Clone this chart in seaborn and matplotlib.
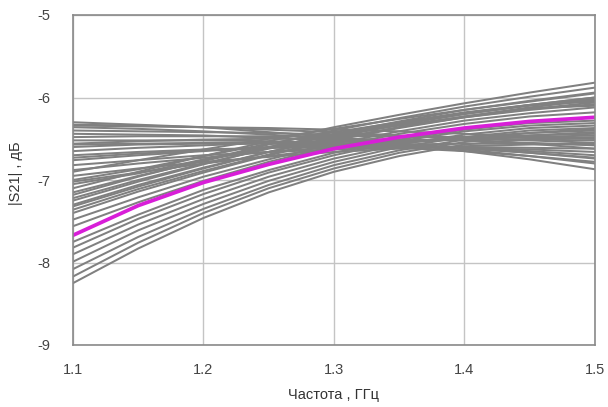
import pandas as pd
import matplotlib
matplotlib.use('Agg')
import matplotlib.pyplot as plt
import seaborn as sns

# Frequency grid, GHz
freq = [1.10, 1.15, 1.20, 1.25, 1.30, 1.35, 1.40, 1.45, 1.50]

# Highlighted (nominal) curve, dB
s21_nominal = [-7.67, -7.31, -7.03, -6.81, -6.62, -6.48, -6.37, -6.29, -6.24]

# Curves starting below the nominal one
s21_low = [
    [-8.25, -7.83, -7.46, -7.15, -6.90, -6.71, -6.57, -6.50, -6.48],
    [-8.17, -7.76, -7.40, -7.10, -6.86, -6.67, -6.54, -6.46, -6.44],
    [-8.08, -7.69, -7.35, -7.06, -6.82, -6.64, -6.51, -6.43, -6.40],
    [-7.99, -7.61, -7.29, -7.01, -6.78, -6.60, -6.48, -6.40, -6.37],
    [-7.90, -7.54, -7.23, -6.96, -6.74, -6.57, -6.45, -6.37, -6.34],
    [-7.82, -7.47, -7.17, -6.91, -6.70, -6.53, -6.41, -6.34, -6.31],
    [-7.75, -7.42, -7.12, -6.88, -6.67, -6.51, -6.39, -6.31, -6.28],
]

# Curves rising above the nominal one at the top of the band
s21_rise = [
    [-7.10, -6.90, -6.71, -6.53, -6.36, -6.21, -6.07, -5.94, -5.82],
    [-7.18, -6.96, -6.76, -6.57, -6.40, -6.25, -6.11, -5.99, -5.88],
    [-7.25, -7.02, -6.81, -6.61, -6.44, -6.29, -6.15, -6.04, -5.94],
    [-7.32, -7.08, -6.86, -6.66, -6.48, -6.33, -6.20, -6.09, -6.00],
    [-7.40, -7.14, -6.91, -6.70, -6.52, -6.37, -6.24, -6.14, -6.06],
    [-7.48, -7.21, -6.96, -6.75, -6.56, -6.41, -6.28, -6.19, -6.12],
    [-7.56, -7.27, -7.01, -6.78, -6.59, -6.44, -6.32, -6.23, -6.18],
    [-7.00, -6.87, -6.71, -6.56, -6.42, -6.30, -6.18, -6.09, -6.05],
    [-6.90, -6.76, -6.63, -6.50, -6.38, -6.26, -6.15, -6.05, -5.95],
    [-7.05, -6.92, -6.75, -6.60, -6.46, -6.34, -6.23, -6.13, -6.10],
    [-7.30, -7.06, -6.85, -6.66, -6.50, -6.36, -6.24, -6.15, -6.08],
    [-7.15, -6.95, -6.77, -6.60, -6.45, -6.31, -6.19, -6.09, -6.00],
    [-7.36, -7.11, -6.89, -6.69, -6.51, -6.36, -6.23, -6.12, -6.03],
    [-7.22, -7.00, -6.80, -6.62, -6.46, -6.32, -6.20, -6.10, -6.02],
]

# Nearly flat / falling curves
s21_flat = [
    [-6.30, -6.33, -6.36, -6.42, -6.48, -6.56, -6.65, -6.75, -6.87],
    [-6.33, -6.34, -6.36, -6.39, -6.42, -6.46, -6.51, -6.56, -6.62],
    [-6.36, -6.38, -6.41, -6.45, -6.50, -6.56, -6.63, -6.71, -6.80],
    [-6.40, -6.41, -6.42, -6.43, -6.45, -6.47, -6.49, -6.52, -6.55],
    [-6.44, -6.45, -6.46, -6.49, -6.52, -6.56, -6.61, -6.67, -6.74],
    [-6.48, -6.47, -6.47, -6.47, -6.47, -6.47, -6.48, -6.49, -6.50],
    [-6.52, -6.52, -6.52, -6.53, -6.55, -6.58, -6.61, -6.65, -6.70],
    [-6.56, -6.53, -6.51, -6.50, -6.50, -6.51, -6.52, -6.55, -6.58],
    [-6.60, -6.57, -6.56, -6.56, -6.58, -6.61, -6.65, -6.71, -6.78],
    [-6.65, -6.61, -6.58, -6.55, -6.53, -6.52, -6.51, -6.51, -6.52],
    [-6.70, -6.66, -6.63, -6.61, -6.60, -6.60, -6.61, -6.63, -6.66],
    [-6.76, -6.70, -6.65, -6.60, -6.56, -6.53, -6.50, -6.48, -6.46],
    [-6.82, -6.76, -6.70, -6.66, -6.63, -6.61, -6.60, -6.61, -6.62],
    [-6.88, -6.80, -6.73, -6.66, -6.60, -6.55, -6.50, -6.46, -6.42],
    [-6.95, -6.86, -6.78, -6.72, -6.66, -6.62, -6.59, -6.57, -6.56],
    [-7.02, -6.91, -6.80, -6.71, -6.62, -6.55, -6.48, -6.43, -6.38],
    [-6.34, -6.35, -6.36, -6.37, -6.39, -6.41, -6.44, -6.47, -6.50],
    [-6.57, -6.56, -6.55, -6.55, -6.56, -6.58, -6.62, -6.67, -6.73],
    [-6.73, -6.68, -6.64, -6.61, -6.58, -6.57, -6.56, -6.56, -6.57],
]

x_ticks = [1.1, 1.2, 1.3, 1.4, 1.5]
y_ticks = [-9, -8, -7, -6, -5]

# Long-form table of all grey curves
rows = []
curve_id = 0
for group in (s21_flat, s21_rise, s21_low):
    for curve in group:
        for f, v in zip(freq, curve):
            rows.append({'curve': curve_id, 'freq': f, 's21': v})
        curve_id += 1
grey_df = pd.DataFrame(rows)
nominal_df = pd.DataFrame({'freq': freq, 's21': s21_nominal})

sns.set_style('white')
plt.rcParams['font.family'] = ['Liberation Sans', 'DejaVu Sans']

fig = plt.figure(figsize=(6.08, 4.07), dpi=100)
ax = fig.add_axes([73 / 608, 1 - 345 / 407, 522 / 608, 330 / 407])

sns.lineplot(data=grey_df, x='freq', y='s21', units='curve', estimator=None,
             color='#808080', linewidth=1.45, ax=ax, legend=False)
sns.lineplot(data=nominal_df, x='freq', y='s21', color='#d81ed8',
             linewidth=2.7, ax=ax, legend=False)

ax.set_xlim(1.1, 1.5)
ax.set_ylim(-9, -5)
ax.set_xticks(x_ticks)
ax.set_yticks(y_ticks)
ax.set_xticklabels(['1.1', '1.2', '1.3', '1.4', '1.5'])
ax.set_yticklabels(['-9', '-8', '-7', '-6', '-5'])

ax.grid(True, color='#c4c4c4', linewidth=1.0)
ax.set_axisbelow(True)
for side in ['left', 'right', 'top', 'bottom']:
    ax.spines[side].set_visible(True)
    ax.spines[side].set_color('#8a8a8a')
    ax.spines[side].set_linewidth(1.2)

ax.tick_params(axis='both', length=0, labelsize=10.5, labelcolor='#444444')
ax.tick_params(axis='y', pad=16)
ax.tick_params(axis='x', pad=13)

ax.set_xlabel('Частота , ГГц', fontsize=10.5, color='#333333')
ax.set_ylabel('|S21| , дБ', fontsize=10.5, color='#333333')
ax.xaxis.set_label_coords(0.5, -0.13)
ax.yaxis.set_label_coords(-0.095, 0.52)

fig.savefig('out.png', dpi=100)
